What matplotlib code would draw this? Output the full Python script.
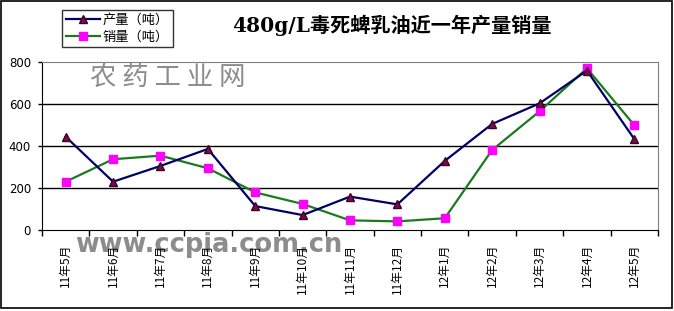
import matplotlib
matplotlib.use('Agg')
import matplotlib.pyplot as plt
from matplotlib.patches import Rectangle
import numpy as np

plt.rcParams['font.family'] = ['Noto Sans CJK SC', 'DejaVu Sans']

# 月份
months = ['11年5月', '11年6月', '11年7月', '11年8月', '11年9月', '11年10月', '11年11月',
          '11年12月', '12年1月', '12年2月', '12年3月', '12年4月', '12年5月']
# 产量（吨）
production = [444, 230, 305, 386, 114, 71, 159, 122, 329, 505, 603, 759, 433]
# 销量（吨）
sales = [230, 337, 354, 294, 179, 124, 46, 41, 56, 381, 565, 770, 499]
yticks = [0, 200, 400, 600, 800]

fig = plt.figure(figsize=(6.74, 3.11), dpi=100)
ax = fig.add_axes([42 / 674, 1 - 230 / 311, 616 / 674, 168 / 311])
ax.set_facecolor('none')

x = np.arange(len(months))
ax.plot(x, production, color='#000066', lw=1.6, marker='^', ms=6,
        mfc='#7a0f3c', mec='#3a0030', label='产量（吨）', zorder=4)
ax.plot(x, sales, color='#1c7a1c', lw=1.6, marker='s', ms=6,
        mfc='#ff00ff', mec='#ff00ff', label='销量（吨）', zorder=3)

ax.set_xlim(-0.5, len(months) - 0.5)
ax.set_ylim(0, 800)
ax.set_yticks(yticks)
ax.set_yticklabels([str(v) for v in yticks], fontsize=8.5, family='DejaVu Sans')
for v in yticks[1:-1]:
    ax.axhline(v, color='black', lw=1, zorder=1)

ax.set_xticks(x)
ax.set_xticklabels(months, rotation=90, fontsize=8.5)
ax.set_xticks(np.arange(-0.5, len(months)), minor=True)
ax.tick_params(axis='x', which='major', length=0, pad=10)
ax.tick_params(axis='x', which='minor', length=4, direction='out', width=1)
ax.tick_params(axis='y', length=3, width=1, pad=5)

ax.spines['left'].set_color('black')
ax.spines['bottom'].set_color('black')
ax.spines['top'].set_color('#808080')
ax.spines['right'].set_color('#808080')

leg = fig.legend(loc='upper left', bbox_to_anchor=(62 / 674, 1 - 10 / 311), fontsize=9.5,
                 frameon=True, fancybox=False, edgecolor='black', borderpad=0.3,
                 labelspacing=0.25, handlelength=2.6, handletextpad=0.2, borderaxespad=0)
leg.get_frame().set_linewidth(1)

fig.text(392 / 674, 1 - 25 / 311, '480g/L毒死蜱乳油近一年产量销量', ha='center', va='center',
         fontsize=14.5, fontweight='bold', family=['DejaVu Serif', 'Noto Sans CJK SC'])

# 水印
fig.text(168 / 674, 1 - 77 / 311, '农 药 工 业 网', ha='center', va='center',
         fontsize=19, color='#8c8c8c', zorder=-1)
fig.text(209 / 674, 1 - 245 / 311, 'www.ccpia.com.cn', ha='center', va='center',
         fontsize=18.5, fontweight='bold', color='#8c8c8c', family='DejaVu Sans', zorder=-1)

fig.patches.append(Rectangle((1 / 674, 3 / 311), 671 / 674, 307 / 311, transform=fig.transFigure,
                             fill=False, edgecolor='black', lw=1.2))

fig.savefig('out.png', dpi=100)
